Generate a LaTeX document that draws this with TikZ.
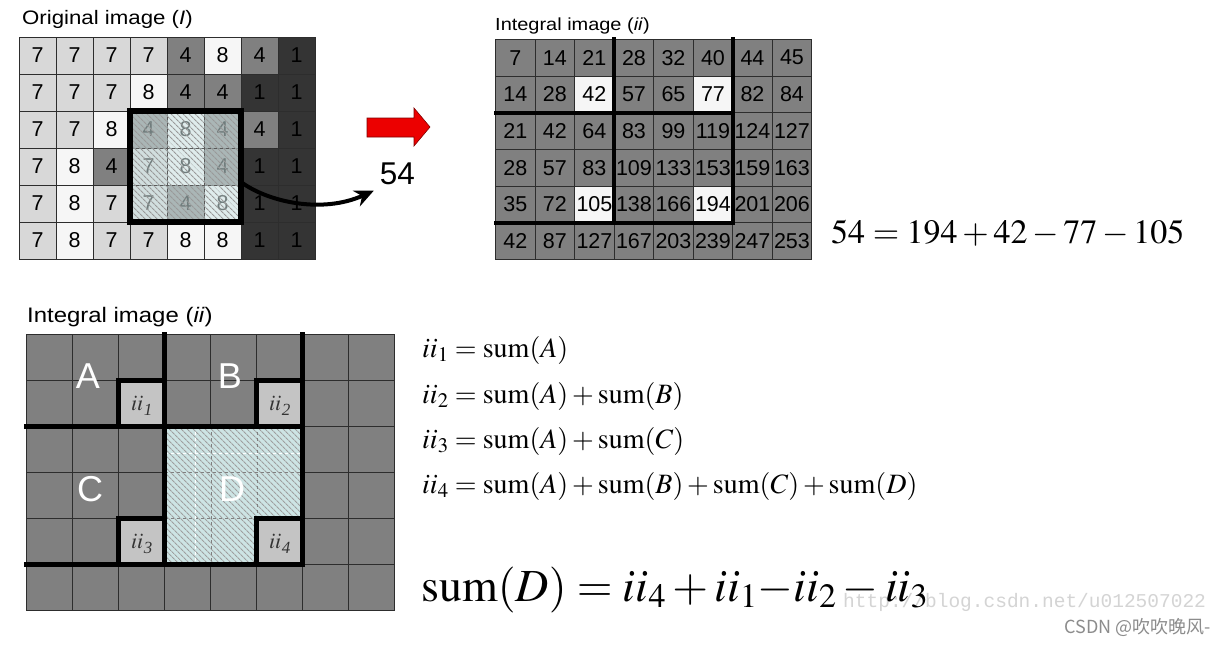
\documentclass[tikz,border=0pt]{standalone}
\usepackage{mathptmx}
\usepackage{fontspec}
\setmainfont{Liberation Serif}
\newfontfamily\arialfont{Liberation Sans}
\newfontfamily\titulofont[FakeStretch=1.14]{Liberation Sans}
\newfontfamily\cjkfont{Noto Sans CJK SC}
\newfontfamily\marcafont{Liberation Mono}
\usepackage{tikz}
\usetikzlibrary{arrows.meta,patterns.meta,calc}
\definecolor{Gris7}{RGB}{216,216,216}
\definecolor{Gris8}{RGB}{246,246,246}
\definecolor{Gris4}{RGB}{128,128,128}
\definecolor{Gris1}{RGB}{52,52,52}
\definecolor{GrisIntegral}{RGB}{128,128,128}
\definecolor{GrisII}{RGB}{196,196,196}
\definecolor{CianRayado}{RGB}{205,228,228}
\definecolor{RojoFlecha}{RGB}{236,0,0}
\definecolor{LineaRejilla}{RGB}{45,45,45}
\newcommand{\iisub}[1]{$ii$\kern.5pt\raisebox{-5pt}{\fontsize{17}{17}\selectfont\textit{#1}}}

\begin{document}
\begin{tikzpicture}[x=1pt,y=-1pt,>=Stealth,
  celda/.style={draw=LineaRejilla,line width=1pt,inner sep=0pt,outer sep=0pt,
    font=\arialfont\fontsize{21.5}{22}\selectfont},
  titulo/.style={anchor=base west,inner sep=0pt,font=\titulofont\fontsize{#1}{#1}\selectfont},
  rayado/.style={pattern={Lines[angle=-45,distance=4pt,line width=1.1pt]},pattern color=#1},
  borde/.style={line width=#1,line cap=rect},
  letra/.style={text=white,inner sep=0pt,font=\arialfont\fontsize{36}{36}\selectfont},
  etiqii/.style={text=black!80,inner sep=0pt,font=\fontsize{22}{22}\selectfont},
  ecuacion/.style={anchor=base west,inner sep=0pt,font=\fontsize{#1}{#1}\selectfont}]
  \fill[white] (0,0) rectangle (1229,646);
  \useasboundingbox (0,0) rectangle (1229,646);

  % imagen original
  \node[titulo=19.5] (tit-orig) at (22,24) {Original image (\textit{I})};
  \foreach \fila [count=\r from 0] in {{7,7,7,7,4,8,4,1},{7,7,7,8,4,4,1,1},{7,7,8,4,8,4,4,1},
      {7,8,4,7,8,4,1,1},{7,8,7,7,4,8,1,1},{7,8,7,7,8,8,1,1}}
    \foreach \v [count=\c from 0] in \fila
      \node[celda,minimum size=37pt,fill=Gris\v] (o-\r-\c) at ({19+(\c+.5)*37},{37+(\r+.5)*37}) {\v};
  \fill[CianRayado,opacity=.55] (o-2-3.north west) rectangle (o-4-5.south east);
  \fill[rayado=gray!80] (o-2-3.north west) rectangle (o-4-5.south east);
  \draw[dashed,gray!70!black] (o-2-4.north west) -- (o-4-4.south west)
    (o-2-5.north west) -- (o-4-5.south west)
    (o-3-3.north west) -- (o-3-5.north east)
    (o-4-3.north west) -- (o-4-5.north east);
  \draw[line width=5.5pt] (o-2-3.north west) rectangle (o-4-5.south east);

  % flecha roja y resultado
  \filldraw[fill=RojoFlecha,draw=red!50!black,line width=.6pt] (367,118) -- (414,118) -- (414,108)
    -- (430,127) -- (414,146) -- (414,137) -- (367,137) -- cycle;
  \node[inner sep=0pt,font=\arialfont\fontsize{31.5}{32}\selectfont] (res) at (397.5,173.5) {54};
  \draw[line width=4pt,-{Stealth[length=19pt,width=17pt]}] ([yshift=3pt]o-3-5.south east)
    .. controls (268,202) and (322,214) .. ([shift={(-6pt,-6pt)}]res.south west);

  % imagen integral arriba
  \node[titulo=17.5] (tit-int) at (495,30) {Integral image (\textit{ii})};
  \foreach \fila [count=\r from 0] in {{7,14,21,28,32,40,44,45},{14,28,42,57,65,77,82,84},
      {21,42,64,83,99,119,124,127},{28,57,83,109,133,153,159,163},
      {35,72,105,138,166,194,201,206},{42,87,127,167,203,239,247,253}}
    \foreach \v [count=\c from 0] in \fila {
      \pgfmathtruncatemacro\claro{and(or(\r==1,\r==4),or(\c==2,\c==5))}
      \ifnum\claro=1 \def\relleno{Gris8}\else\def\relleno{GrisIntegral}\fi
      \node[celda,minimum width=39.5pt,minimum height=36.7pt,fill=\relleno] (i-\r-\c)
        at ({495.7+(\c+.5)*39.5},{39.3+(\r+.5)*36.7}) {\v};
    }
  \draw[borde=4pt] (i-0-3.north west) -- (i-4-3.south west)
    (i-0-5.north east) -- (i-4-5.south east)
    (i-1-0.south west) -- (i-1-5.south east)
    (i-4-0.south west) -- (i-4-5.south east);
  \node[ecuacion=34] (eq54) at (831,243) {$54 = 194 + 42 - 77 - 105$};

  % imagen integral abajo
  \node[titulo=21] (tit-abajo) at (27,322) {Integral image (\textit{ii})};
  \foreach \r in {0,...,5}
    \foreach \c in {0,...,7} {
      \pgfmathtruncatemacro\claro{and(or(\r==1,\r==4),or(\c==2,\c==5))}
      \ifnum\claro=1 \def\relleno{GrisII}\else\def\relleno{GrisIntegral}\fi
      \node[celda,line width=1.5pt,minimum size=46pt,fill=\relleno] (b-\r-\c)
        at ({26.7+(\c+.5)*46},{334.3+(\r+.5)*46}) {};
    }
  \fill[CianRayado] (b-2-3.north west) -- (b-2-5.north east) -- (b-3-5.south east)
    -- (b-4-5.north west) -- (b-4-4.south east) -- (b-4-3.south west) -- cycle;
  \fill[rayado=gray!75] (b-2-3.north west) -- (b-2-5.north east) -- (b-3-5.south east)
    -- (b-4-5.north west) -- (b-4-4.south east) -- (b-4-3.south west) -- cycle;
  \draw[dashed,gray] (b-2-4.north west) -- (b-4-4.south west)
    (b-2-5.north west) -- (b-3-5.south west)
    (b-3-3.north west) -- (b-3-5.north east)
    (b-4-3.north west) -- (b-4-4.north east);
  \draw[dashed,white] ($(b-2-3.north west)!.66!(b-2-3.north east)$) -- ($(b-4-3.south west)!.66!(b-4-3.south east)$)
    ($(b-2-3.north west)!.58!(b-2-3.south west)$) -- ($(b-2-5.north east)!.58!(b-2-5.south east)$);
  \draw[borde=4.5pt] (b-1-0.south west) -- (b-1-5.south east)
    (b-4-0.south west) -- (b-4-5.south east)
    (b-0-3.north west) -- (b-4-3.south west)
    (b-0-5.north east) -- (b-4-5.south east);
  \foreach \r/\c in {1/2,1/5,4/2,4/5}
    \draw[borde=4.5pt] (b-\r-\c.south west) -- (b-\r-\c.north west) -- (b-\r-\c.north east);
  \node[letra] (A) at (88,376) {A};
  \node[letra] (B) at (230,376) {B};
  \node[letra] (C) at (90,489) {C};
  \node[letra] (D) at (232,489) {D};
  \node[etiqii] (ii1) at ([yshift=-3pt]b-1-2.center) {\iisub{1}};
  \node[etiqii] (ii2) at ([yshift=-3pt]b-1-5.center) {\iisub{2}};
  \node[etiqii] (ii3) at ([yshift=-3pt]b-4-2.center) {\iisub{3}};
  \node[etiqii] (ii4) at ([yshift=-3pt]b-4-5.center) {\iisub{4}};

  % ecuaciones
  \node[ecuacion=28] (e1) at (422,357) {$ii_1 = \mathrm{sum}(A)$};
  \node[ecuacion=28] (e2) at (422,403) {$ii_2 = \mathrm{sum}(A) + \mathrm{sum}(B)$};
  \node[ecuacion=28] (e3) at (422,448) {$ii_3 = \mathrm{sum}(A) + \mathrm{sum}(C)$};
  \node[ecuacion=28] (e4) at (422,493) {$ii_4 = \mathrm{sum}(A) + \mathrm{sum}(B) + \mathrm{sum}(C) + \mathrm{sum}(D)$};
  \node[anchor=base west,inner sep=0pt,text=black!17,font=\marcafont\fontsize{19.5}{20}\selectfont] (marca)
    at (843,607) {http://blog.csdn.net/u012507022};
  \node[ecuacion=46] (esum) at (421,601) {$\mathrm{sum}(D) = ii_4 + ii_1{-}ii_2 - ii_3$};
  \node[anchor=base east,inner sep=0pt,text=black!45,font=\cjkfont\fontsize{18}{18}\selectfont] (csdn)
    at (1211,633) {CSDN @吹吹晚风-};
\end{tikzpicture}
\end{document}
